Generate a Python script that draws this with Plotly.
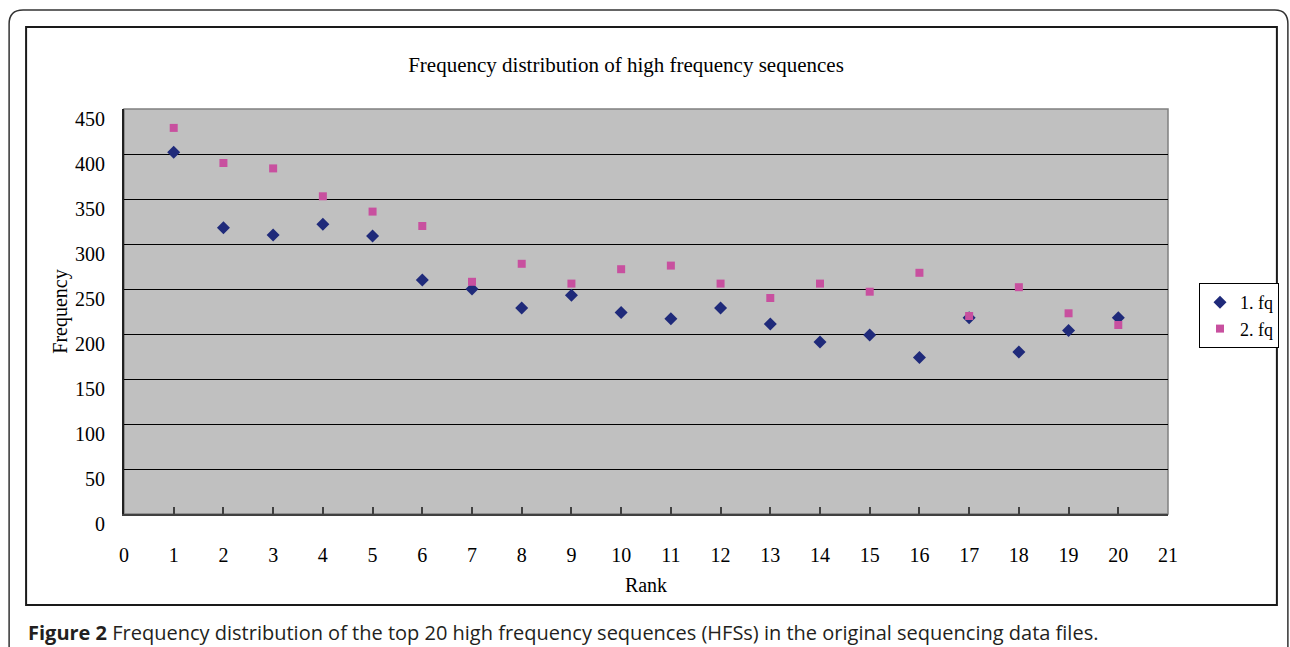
import plotly.graph_objects as go

rank = list(range(1, 21))
fq1 = [402, 318, 310, 322, 309, 260, 250, 229, 243, 224,
       217, 229, 211, 191, 199, 174, 218, 180, 204, 218]
fq2 = [429, 390, 384, 353, 336, 320, 258, 278, 256, 272,
       276, 256, 240, 256, 247, 268, 220, 252, 223, 210]
series_names = ["1. fq", "2. fq"]
y_ticks = list(range(0, 451, 50))
x_ticks = list(range(0, 22))

W, H = 1290, 647
L, R, T, B = 124, 1169, 109, 514

def px(x):
    return (x - L) / (R - L)

def py(y):
    return (B - y) / (B - T)

serif = "Liberation Serif"

fig = go.Figure()
fig.add_trace(go.Scatter(x=rank, y=fq1, mode="markers", name=series_names[0],
                         marker=dict(symbol="diamond", size=10, color="#1F2A7A")))
fig.add_trace(go.Scatter(x=rank, y=fq2, mode="markers", name=series_names[1],
                         marker=dict(symbol="square", size=8, color="#C8509F")))

shapes = [
    dict(type="rect", xref="paper", yref="paper", x0=0, x1=1, y0=0, y1=1,
         line=dict(color="#808080", width=1.5), layer="below"),
    dict(type="rect", xref="paper", yref="paper", x0=px(26), x1=px(1278),
         y0=py(605), y1=py(27), line=dict(color="#1a1a1a", width=2)),
    dict(type="path", xref="paper", yref="paper",
         path=(f"M {px(9)} {py(660)} L {px(9)} {py(24)} "
               f"Q {px(9)} {py(10)} {px(23)} {py(10)} "
               f"L {px(1276)} {py(10)} Q {px(1289)} {py(10)} {px(1289)} {py(24)} "
               f"L {px(1289)} {py(660)}"),
         line=dict(color="#333333", width=1.5)),
]

annotations = [
    dict(text="<b>Figure 2</b> Frequency distribution of the top 20 high frequency sequences (HFSs) in the original sequencing data files.",
         xref="paper", yref="paper", x=px(26), y=py(632), xanchor="left", yanchor="middle",
         showarrow=False, font=dict(family="Open Sans", size=20, color="#231F20")),
]

fig.update_layout(
    width=W, height=H,
    margin=dict(l=L, r=W - R, t=T, b=H - B, pad=0),
    paper_bgcolor="white", plot_bgcolor="#C0C0C0",
    title=dict(text="Frequency distribution of high frequency sequences",
               x=626 / W, xanchor="center", y=1 - 65 / H, yanchor="middle",
               font=dict(family=serif, size=21, color="black")),
    showlegend=True,
    legend=dict(x=px(1199), y=py(283), xanchor="left", yanchor="top",
                bgcolor="white", bordercolor="black", borderwidth=1,
                font=dict(family=serif, size=18, color="black"),
                itemwidth=30, tracegroupgap=0),
    shapes=shapes, annotations=annotations,
    xaxis=dict(range=[0, 21], tickmode="array", tickvals=x_ticks,
               ticks="inside", ticklen=7, tickcolor="#404040", tickwidth=1.5,
               showgrid=False, zeroline=False, showline=True, linecolor="#404040", linewidth=2,
               ticklabelstandoff=22,
               tickfont=dict(family=serif, size=20, color="black"),
               title=dict(text="Rank", font=dict(family=serif, size=20, color="black"), standoff=13)),
    yaxis=dict(range=[0, 450], tickmode="array", tickvals=y_ticks,
               ticks="", showgrid=True, gridcolor="black", gridwidth=1,
               zeroline=False, showline=True, linecolor="#202020", linewidth=2,
               ticklabelstandoff=13, ticklabelshift=10,
               tickfont=dict(family=serif, size=20, color="black"),
               title=dict(text="Frequency", font=dict(family=serif, size=20, color="black"), standoff=2)),
)

fig.write_html("out.html")
